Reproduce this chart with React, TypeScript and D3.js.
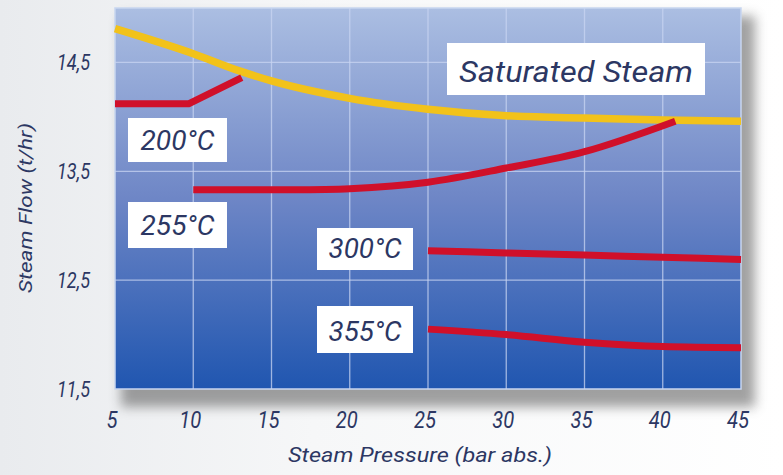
import React from "react";
import * as d3 from "d3";

const xTicks = [5, 10, 15, 20, 25, 30, 35, 40, 45];
const yTicks = [11.5, 12.5, 13.5, 14.5];
const yTickLabels = ["11,5", "12,5", "13,5", "14,5"];

const saturatedX = [5, 10, 13, 15, 20, 25, 30, 35, 40, 45];
const saturatedY = [14.81, 14.58, 14.42, 14.33, 14.17, 14.07, 14.01, 13.99, 13.97, 13.96];

const t200X = [5, 9.7, 13.1];
const t200Y = [14.12, 14.12, 14.36];

const t255X = [10, 15, 20, 25, 30, 35, 40.8];
const t255Y = [13.33, 13.33, 13.34, 13.4, 13.53, 13.68, 13.96];

const t300X = [25, 30, 35, 40, 45];
const t300Y = [12.77, 12.75, 12.73, 12.71, 12.69];

const t355X = [25, 30, 35, 40, 45];
const t355Y = [12.05, 12.0, 11.93, 11.89, 11.88];

const labels = ["Saturated Steam", "200°C", "255°C", "300°C", "355°C"];
const xTitle = "Steam Pressure (bar abs.)";
const yTitle = "Steam Flow (t/hr)";

const W = 783;
const H = 475;
const L = 115, R = 741, T = 8, B = 389;

const x = d3.scaleLinear().domain([5, 45]).range([L, R]);
const y = d3.scaleLinear().domain([11.5, 15.0]).range([B, T]);

const zip = (xs: number[], ys: number[]) => xs.map((v, i) => [v, ys[i]] as [number, number]);

const smooth = d3.line<[number, number]>().x(d => x(d[0])).y(d => y(d[1])).curve(d3.curveMonotoneX);
const catmull = d3.line<[number, number]>().x(d => x(d[0])).y(d => y(d[1])).curve(d3.curveCatmullRom.alpha(0.5));
const straight = d3.line<[number, number]>().x(d => x(d[0])).y(d => y(d[1]));

const font = "Roboto, 'Liberation Sans', Arial, sans-serif";
const textColor = "#2c3763";

function CText(props: { x: number; y: number; size: number; width: number; anchor?: string; children: string; transform?: string }) {
  return (
    <text
      x={props.x}
      y={props.y}
      textAnchor={props.anchor || "middle"}
      fontFamily={font}
      fontStyle="italic"
      fontWeight={400}
      fontSize={props.size}
      fill={textColor}
      textLength={props.width}
      lengthAdjust="spacingAndGlyphs"
      transform={props.transform}
    >
      {props.children}
    </text>
  );
}

export default function App() {
  const boxes = [
    { t: labels[0], x0: 447, y0: 43, w: 258, h: 52, fs: 29, tw: 234, base: 82 },
    { t: labels[1], x0: 128, y0: 118, w: 99, h: 44, fs: 28, tw: 74, base: 150 },
    { t: labels[2], x0: 128, y0: 202, w: 99, h: 46, fs: 28, tw: 74, base: 235 },
    { t: labels[3], x0: 317, y0: 228, w: 96, h: 42, fs: 28, tw: 73, base: 258 },
    { t: labels[4], x0: 317, y0: 306, w: 96, h: 47, fs: 28, tw: 73, base: 341 },
  ];
  return (
    <div style={{ position: "fixed", left: 0, top: 0 }}>
      <svg width={W} height={H} style={{ display: "block" }}>
        <defs>
          <linearGradient id="bg" x1="0" y1="0" x2="0" y2="1">
            <stop offset="0" stopColor="#abbee2" />
            <stop offset="0.5" stopColor="#6e86c6" />
            <stop offset="1" stopColor="#2056b0" />
          </linearGradient>
          <linearGradient id="page" x1="0" y1="0" x2="1" y2="0">
            <stop offset="0" stopColor="#e9ebee" />
            <stop offset="0.4" stopColor="#f6f7f8" />
            <stop offset="1" stopColor="#ffffff" />
          </linearGradient>
          <filter id="shadow" x="-10%" y="-10%" width="125%" height="125%">
            <feGaussianBlur stdDeviation="6" />
          </filter>
        </defs>
        <rect x={0} y={0} width={W} height={H} fill="url(#page)" />
        <rect x={L + 6} y={T + 8} width={R - L + 8} height={B - T + 10} fill="#555" opacity={0.55} filter="url(#shadow)" />
        <rect x={L} y={T} width={R - L} height={B - T} fill="url(#bg)" stroke="#c8d6f0" strokeWidth={1.5} />
        {xTicks.slice(1, -1).map(v => (
          <line key={"gx" + v} x1={x(v)} x2={x(v)} y1={T} y2={B} stroke="#c9d5f2" strokeWidth={1.3} opacity={0.75} />
        ))}
        {yTicks.slice(1).map(v => (
          <line key={"gy" + v} x1={L} x2={R} y1={y(v)} y2={y(v)} stroke="#c9d5f2" strokeWidth={1.3} opacity={0.75} />
        ))}
        <path d={smooth(zip(saturatedX, saturatedY)) || ""} fill="none" stroke="#f2c21a" strokeWidth={7.5} />
        <path d={straight(zip(t200X, t200Y)) || ""} fill="none" stroke="#d0102a" strokeWidth={7} strokeLinejoin="round" />
        <path d={catmull(zip(t255X, t255Y)) || ""} fill="none" stroke="#d0102a" strokeWidth={7} />
        <path d={smooth(zip(t300X, t300Y)) || ""} fill="none" stroke="#d0102a" strokeWidth={7} />
        <path d={smooth(zip(t355X, t355Y)) || ""} fill="none" stroke="#d0102a" strokeWidth={7} />
        {boxes.map(b => (
          <g key={b.t}>
            <rect x={b.x0} y={b.y0} width={b.w} height={b.h} fill="#ffffff" />
            <CText x={b.x0 + b.w / 2} y={b.base} size={b.fs} width={b.tw}>{b.t}</CText>
          </g>
        ))}
        {yTicks.map((v, i) => (
          <CText key={"yt" + v} x={90} y={y(v) + 8} size={22} width={33} anchor="end">{yTickLabels[i]}</CText>
        ))}
        {xTicks.map(v => (
          <CText key={"xt" + v} x={x(v) - 3} y={428} size={23} width={v < 10 ? 11 : 22}>{String(v)}</CText>
        ))}
        <CText x={420} y={462} size={21} width={264}>{xTitle}</CText>
        <CText x={0} y={0} size={19} width={170} transform="translate(32,208) rotate(-90)">{yTitle}</CText>
      </svg>
    </div>
  );
}
